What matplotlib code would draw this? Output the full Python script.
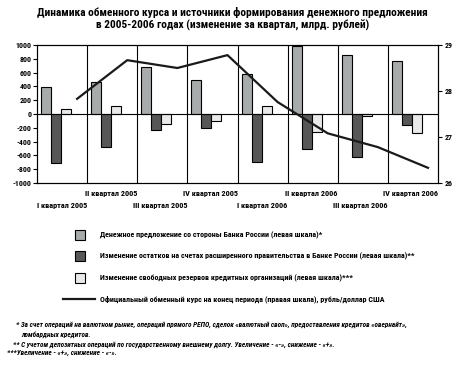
import matplotlib
matplotlib.use("Agg")
import matplotlib.pyplot as plt
from matplotlib.lines import Line2D
from matplotlib import font_manager as fm

quarters = ["I квартал 2005", "II квартал 2005", "III квартал 2005", "IV квартал 2005",
            "I квартал 2006", "II квартал 2006", "III квартал 2006", "IV квартал 2006"]
money_supply = [390, 460, 680, 490, 580, 985, 850, 765]
gov_accounts = [-715, -485, -235, -205, -700, -505, -630, -165]
free_reserves = [70, 110, -150, -105, 110, -265, -25, -280]
exchange_rate = [27.83, 28.67, 28.50, 28.78, 27.76, 27.08, 26.78, 26.33]
left_ticks = list(range(-1000, 1001, 200))
right_ticks = [26, 27, 28, 29]

legend_labels = [
    "Денежное предложение со стороны Банка России (левая шкала)*",
    "Изменение остатков на счетах расширенного правительства в Банке России (левая шкала)**",
    "Изменение свободных резервов кредитных организаций (левая шкала)***",
    "Официальный обменный курс на конец периода (правая шкала), рубль/доллар США",
]
title = ("Динамика обменного курса и источники формирования денежного предложения\n"
         "в 2005-2006 годах (изменение за квартал, млрд. рублей)")
footnotes = [
    "* За счет операций на валютном рынке, операций прямого РЕПО, сделок «валютный своп», предоставления кредитов «овернайт»,",
    "ломбардных кредитов.",
    "** С учетом депозитных операций по государственному внешнему долгу. Увеличение - «-», снижение - «+».",
    "***Увеличение - «+», снижение - «-».",
]

names = {f.name for f in fm.fontManager.ttflist}
family = 'Liberation Sans'
for cand in ['Liberation Sans Narrow', 'DejaVu Sans Condensed', 'Roboto Condensed', 'Open Sans Condensed']:
    if cand in names:
        family = cand
        break
plt.rcParams['font.family'] = [family, 'DejaVu Sans']
plt.rcParams['font.weight'] = 'bold'
plt.rcParams['axes.unicode_minus'] = False

W, H = 465, 367
fig = plt.figure(figsize=(4.65, 3.67), dpi=100)
renderer = fig.canvas.get_renderer()


def size_for(text, width_px, base=10, **kw):
    t = fig.text(0, 0, text, fontsize=base, **kw)
    w = t.get_window_extent(renderer=renderer).width
    t.remove()
    return base * width_px / w


tick_fs = size_for("I квартал 2005", 51, fontweight='bold')
ynum_fs = size_for("1000", 16, fontweight='bold')

ax = fig.add_axes([37/W, 1-183/H, (438-37)/W, (183-45)/H])

c1, c2, c3 = "#a7abac", "#575757", "#e9e9e9"
n = len(quarters)
xs = list(range(n))
w = 0.2
ax.bar([x + 0.08 for x in xs], money_supply, width=w, align='edge', color=c1, edgecolor='black', linewidth=0.8, zorder=3)
ax.bar([x + 0.28 for x in xs], gov_accounts, width=w, align='edge', color=c2, edgecolor='black', linewidth=0.8, zorder=3)
ax.bar([x + 0.48 for x in xs], free_reserves, width=w, align='edge', color=c3, edgecolor='black', linewidth=0.8, zorder=3)
ax.axhline(0, color='black', linewidth=0.8, zorder=4)
for b in range(1, n):
    ax.axvline(b, color='black', linewidth=0.8, zorder=1)

ax.set_xlim(0, n)
ax.set_ylim(-1000, 1000)
ax.set_yticks(left_ticks)
ax.tick_params(axis='y', labelsize=ynum_fs, length=3, width=0.8, pad=1)
for s in ax.spines.values():
    s.set_linewidth(0.8)

ax.set_xticks([2, 4, 6, 8])
ax.set_xticklabels([quarters[i] for i in (1, 3, 5, 7)], ha='right', fontsize=tick_fs)
ax.set_xticks([1, 3, 5, 7], minor=True)
ax.set_xticklabels([quarters[i] for i in (0, 2, 4, 6)], minor=True, ha='right', fontsize=tick_fs)
ax.tick_params(axis='x', which='major', length=0, pad=5)
ax.tick_params(axis='x', which='minor', length=0, pad=13.5)

ax2 = ax.twinx()
ax2.plot([x + 0.8 for x in xs], exchange_rate, color='#1a1a1a', linewidth=1.6, zorder=5)
ax2.set_ylim(26, 29)
ax2.set_yticks(right_ticks)
ax2.tick_params(axis='y', labelsize=ynum_fs, length=3, width=0.8, pad=2)

title_fs = size_for(title, 391, fontweight='bold', linespacing=1.2)
fig.text(0.5, 1-19/H, title, ha='center', va='center', fontsize=title_fs, fontweight='bold', linespacing=1.2)

# legend
leg_fs = size_for(legend_labels[1], 318, fontweight='bold')
leg_rows = [235, 256, 278, 299]
colors = [c1, c2, c3]
for i, lab in enumerate(legend_labels):
    y = 1 - leg_rows[i]/H
    if i < 3:
        fig.add_artist(Line2D([79.5/W], [y], marker='s', markersize=7.5, markerfacecolor=colors[i],
                              markeredgecolor='black', markeredgewidth=0.8, linestyle='none'))
    else:
        fig.add_artist(Line2D([63/W, 95/W], [y, y], color='#1a1a1a', linewidth=1.6))
    fig.text(100/W, y, lab, ha='left', va='center', fontsize=leg_fs, fontweight='bold')

foot_fs = size_for(footnotes[0], 392, fontweight='bold', style='italic')
ys = [325, 334, 344, 353]
xs_f = [16, 21, 13, 7]
for t, y, x in zip(footnotes, ys, xs_f):
    fig.text(x/W, 1-y/H, t, ha='left', va='center', fontsize=foot_fs, style='italic', fontweight='bold')

fig.savefig("out.png", dpi=100)
